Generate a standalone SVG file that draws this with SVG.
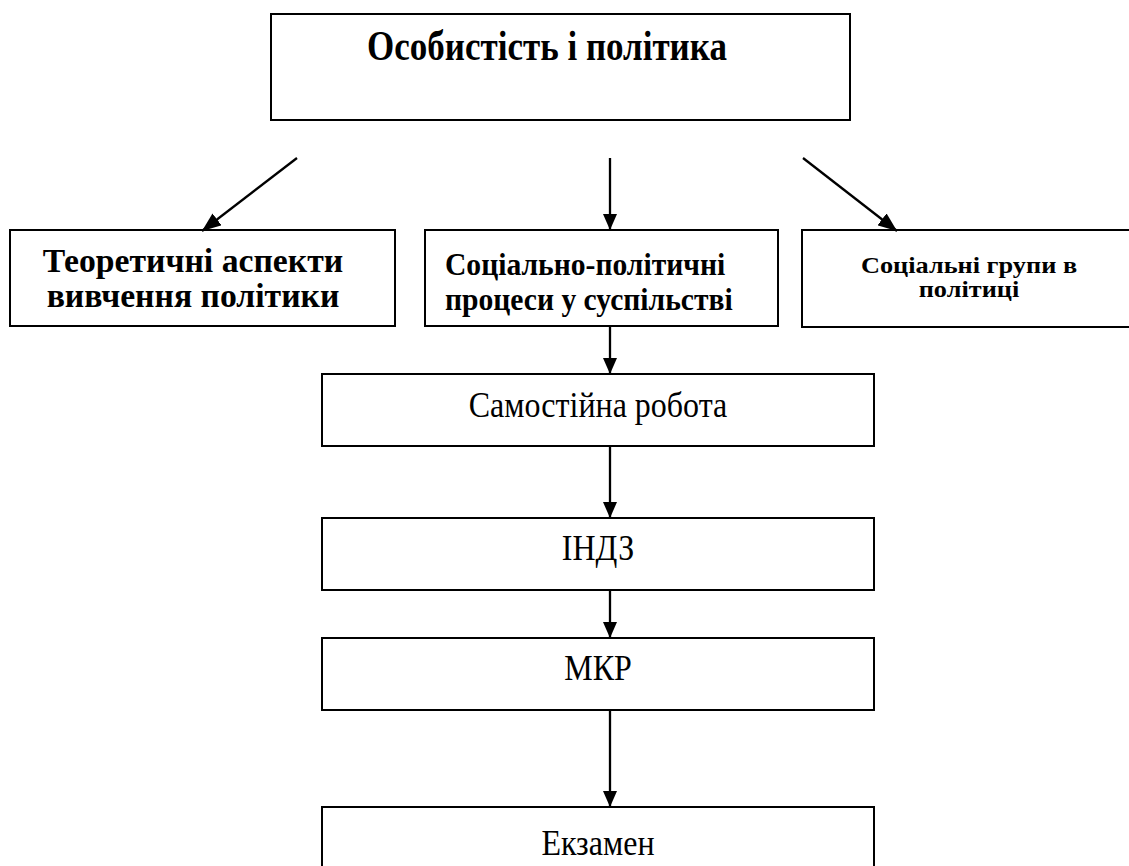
<svg xmlns="http://www.w3.org/2000/svg" width="1129" height="866" viewBox="0 0 1129 866">
<style>
.box{fill:#fff;stroke:#000;stroke-width:2}
.t{font-family:"Liberation Serif","Times New Roman",serif;fill:#000}
.b{font-weight:bold}
.c{stroke:#000;stroke-width:2.3;fill:none}
</style>
<defs>
<marker id="ah" viewBox="0 0 16 14" refX="16" refY="7" markerWidth="16" markerHeight="14" markerUnits="userSpaceOnUse" orient="auto">
<path d="M0,0 L16,7 L0,14 Z" fill="#000"/>
</marker>
<marker id="ahd" viewBox="0 0 19 15" refX="19" refY="7.5" markerWidth="19" markerHeight="15" markerUnits="userSpaceOnUse" orient="auto">
<path d="M0,0 L19,7.5 L0,15 Z" fill="#000"/>
</marker>
</defs>
<rect width="1129" height="866" fill="#fff"/>
<g id="top">
<rect class="box" x="271" y="14" width="579" height="106"/>
<text class="t b" transform="translate(547,60) scale(1,1.18)" font-size="35" text-anchor="middle">Особистість і політика</text>
</g>
<g id="theory">
<rect class="box" x="10" y="230" width="385" height="96"/>
<text class="t b" transform="translate(193,272) scale(1,1.03)" font-size="33.7" text-anchor="middle">Теоретичні аспекти</text>
<text class="t b" transform="translate(193,307) scale(1,1.03)" font-size="33.7" text-anchor="middle">вивчення політики</text>
</g>
<g id="processes">
<rect class="box" x="425" y="230" width="353" height="96"/>
<text class="t b" transform="translate(445,275) scale(1,1.05)" font-size="29.6">Соціально-політичні</text>
<text class="t b" transform="translate(445,310) scale(1,1.05)" font-size="29.6">процеси у суспільстві</text>
</g>
<g id="groups">
<rect class="box" x="802" y="230" width="340" height="97"/>
<text class="t b" transform="translate(969,273) scale(1.12,1)" font-size="23.5" text-anchor="middle">Соціальні групи в</text>
<text class="t b" transform="translate(969,297) scale(1.12,1)" font-size="23.5" text-anchor="middle">політиці</text>
</g>
<g id="selfwork">
<rect class="box" x="322" y="374" width="552" height="72"/>
<text class="t" transform="translate(598,417) scale(1,1.12)" font-size="32" text-anchor="middle">Самостійна робота</text>
</g>
<g id="indz">
<rect class="box" x="322" y="518" width="552" height="72"/>
<text class="t" transform="translate(598,560) scale(1,1.12)" font-size="32" text-anchor="middle">ІНДЗ</text>
</g>
<g id="mkr">
<rect class="box" x="322" y="638" width="552" height="72"/>
<text class="t" transform="translate(598,680) scale(1,1.12)" font-size="32" text-anchor="middle">МКР</text>
</g>
<g id="exam">
<rect class="box" x="322" y="807" width="552" height="70"/>
<text class="t" transform="translate(598,855) scale(1,1.12)" font-size="32" text-anchor="middle">Екзамен</text>
</g>
<g id="connectors">
<line class="c" x1="297" y1="158" x2="202" y2="231" marker-end="url(#ahd)"/>
<line class="c" x1="610" y1="158" x2="610" y2="230" marker-end="url(#ah)"/>
<line class="c" x1="803" y1="158" x2="897" y2="231" marker-end="url(#ahd)"/>
<line class="c" x1="610" y1="326" x2="610" y2="374" marker-end="url(#ah)"/>
<line class="c" x1="610" y1="446" x2="610" y2="518" marker-end="url(#ah)"/>
<line class="c" x1="610" y1="590" x2="610" y2="638" marker-end="url(#ah)"/>
<line class="c" x1="610" y1="710" x2="610" y2="807" marker-end="url(#ah)"/>
</g>
</svg>
